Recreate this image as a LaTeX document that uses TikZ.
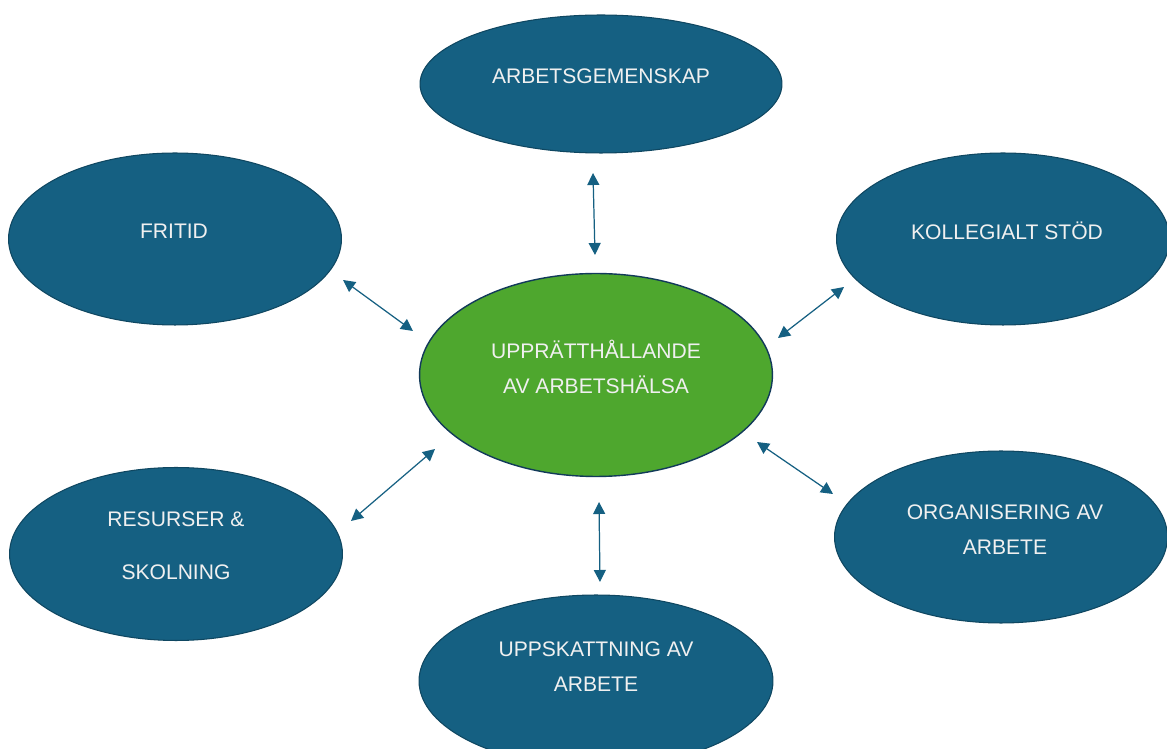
\documentclass[tikz,border=0pt]{standalone}
\usepackage{fontspec}
\setmainfont{Liberation Sans}
\usetikzlibrary{arrows.meta, shapes.geometric, positioning}
\definecolor{topicblue}{HTML}{156082}
\definecolor{topicline}{HTML}{0F4761}
\definecolor{coregreen}{HTML}{4EA72E}
\definecolor{coreline}{HTML}{123A5A}
\tikzset{
  topic/.style={
    ellipse, draw=topicline, line width=0.6pt,
    fill=topicblue, inner sep=0pt
  },
  core/.style={
    ellipse, draw=coreline, line width=0.8pt,
    fill=coregreen, inner sep=0pt
  },
  tag/.style={
    text=white!94!black, align=center,
    font=\fontsize{12}{20}\selectfont
  },
  darrow/.style={
    {Triangle[length=0.24cm, width=0.24cm]}-{Triangle[length=0.24cm, width=0.24cm]},
    line width=0.7pt, draw=topicblue
  }
}

\begin{document}
\begin{tikzpicture}[x=0.02cm, y=-0.02cm]
  \fill[white] (0,0) rectangle (1167,749);
  \useasboundingbox (0,0) rectangle (1167,749);
  \clip (0,0) rectangle (1167,749);

  % ellipses
  \node[topic, minimum width=7.24cm, minimum height=2.76cm] (gemenskap) at (601,84) {};
  \node[topic, minimum width=6.66cm, minimum height=3.44cm] (fritid) at (175,239) {};
  \node[topic, minimum width=6.66cm, minimum height=3.44cm] (kollegialt) at (1003,239) {};
  \node[core, minimum width=7.06cm, minimum height=4.06cm] (mitt) at (596,375) {};
  \node[topic, minimum width=6.66cm, minimum height=3.46cm] (resurser) at (176,554) {};
  \node[topic, minimum width=6.66cm, minimum height=3.44cm] (organisering) at (1001,537) {};
  \node[topic, minimum width=7.08cm, minimum height=3.44cm] (uppskattning) at (596,681) {};

  % texts
  \node[tag] (gemenskap-t) at (601,76) {ARBETSGEMENSKAP};
  \node[tag] (fritid-t) at (174,231) {FRITID};
  \node[tag] (kollegialt-t) at (1007,231) {KOLLEGIALT STÖD};
  \node[tag] (mitt-t) at (596,367) {UPPRÄTTHÅLLANDE\\AV ARBETSHÄLSA};
  \node[tag] (resurser-t) at (176,546) {RESURSER \&\\[10pt]SKOLNING};
  \node[tag] (organisering-t) at (1005,530) {ORGANISERING AV\\ARBETE};
  \node[tag] (uppskattning-t) at (596,667) {UPPSKATTNING AV\\ARBETE};

  % arrow ends
  \coordinate (g1) at (593,173);  \coordinate (g2) at (595,255);
  \coordinate (f1) at (343,280);  \coordinate (f2) at (413,331);
  \coordinate (k1) at (844,287);  \coordinate (k2) at (778,338);
  \coordinate (r1) at (351,521);  \coordinate (r2) at (435,449);
  \coordinate (o1) at (833,494);  \coordinate (o2) at (757,442);
  \coordinate (u1) at (600,582);  \coordinate (u2) at (599,502);

  \draw[darrow] (g1) -- (g2);
  \draw[darrow] (f1) -- (f2);
  \draw[darrow] (k1) -- (k2);
  \draw[darrow] (r1) -- (r2);
  \draw[darrow] (o1) -- (o2);
  \draw[darrow] (u1) -- (u2);
\end{tikzpicture}
\end{document}
